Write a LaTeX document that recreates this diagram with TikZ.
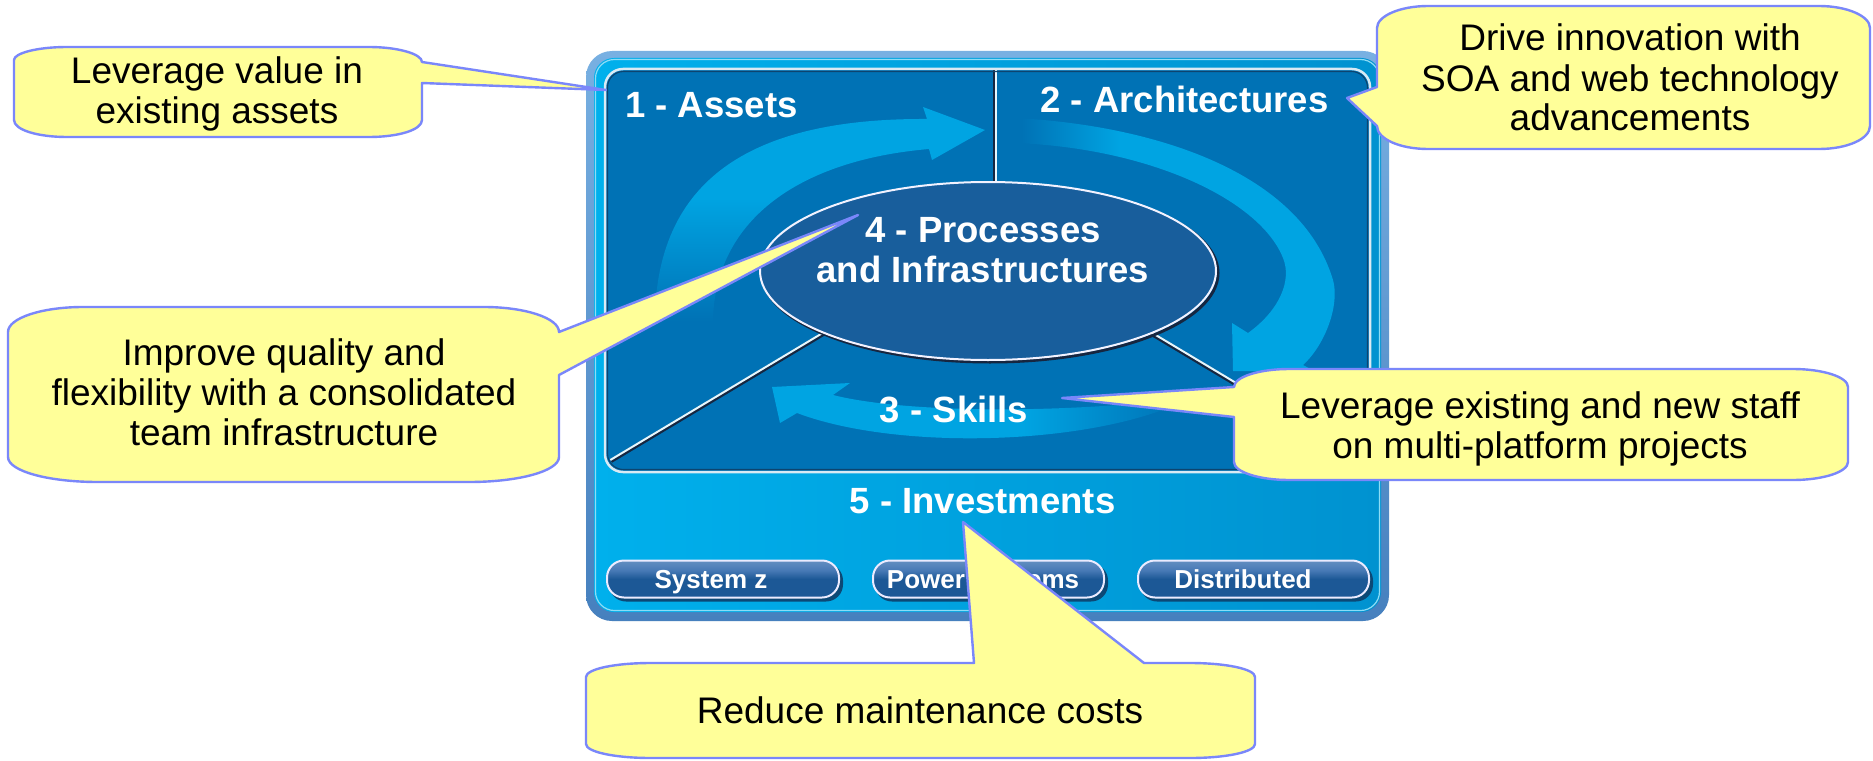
\documentclass[tikz,border=0pt]{standalone}
\usepackage{fontspec}
\setmainfont{Liberation Sans}
\usetikzlibrary{shapes.geometric}
\definecolor{pnl}{RGB}{0,114,181}
\definecolor{ell}{RGB}{24,94,156}
\definecolor{arr}{RGB}{0,164,226}
\definecolor{cyanA}{RGB}{0,176,236}
\definecolor{cyanB}{RGB}{0,146,208}
\definecolor{rim}{RGB}{70,128,190}
\definecolor{rimlight}{RGB}{120,176,226}
\definecolor{cfill}{RGB}{255,255,153}
\definecolor{cline}{RGB}{122,135,250}
\definecolor{btnA}{RGB}{72,122,182}
\definecolor{btnB}{RGB}{28,88,150}
\definecolor{dline}{RGB}{22,38,64}
\pgfdeclareverticalshading{fadeUL}{100bp}{color(0bp)=(pnl); color(28bp)=(pnl); color(55bp)=(arr); color(100bp)=(arr)}
\pgfdeclarehorizontalshading{fadeR}{100bp}{color(0bp)=(pnl); color(26bp)=(pnl); color(41bp)=(arr); color(100bp)=(arr)}
\pgfdeclarehorizontalshading{fadeB}{100bp}{color(0bp)=(arr); color(55bp)=(arr); color(74bp)=(pnl); color(100bp)=(pnl)}
\pgfdeclareverticalshading{btnshade}{100bp}{color(0bp)=(btnB); color(25bp)=(btnB); color(50bp)=(btnB); color(62bp)=(btnA); color(75bp)=(btnA!85!white); color(100bp)=(btnA!85!white)}
\newcommand{\ctfont}{\fontsize{37}{40}\selectfont}
\newcommand{\lbfont}{\fontsize{36.5}{40}\selectfont\bfseries}
\newcommand{\btfont}{\fontsize{26}{30}\selectfont\bfseries}
\newcommand{\tlines}[1]{\begin{tabular}[t]{@{}c@{}}#1\end{tabular}}
\begin{document}
\begin{tikzpicture}[x=1pt,y=-1pt,
  cbox/.style={fill=cfill, draw=cline, line width=2.4pt, line join=round},
  ctext/.style={anchor=base, inner sep=0pt, font=\ctfont, text=black},
  plabel/.style={anchor=base, inner sep=0pt, font=\lbfont, text=white},
  btn/.style={shade, shading=btnshade, draw=white!92!blue, line width=2pt, rounded corners=17pt, minimum width=232pt, minimum height=37pt, inner sep=0pt},
  btntext/.style={anchor=base, inner sep=0pt, font=\btfont, text=white},
  divdark/.style={draw=dline, line width=4pt},
  divlight/.style={draw=white!90!cyan, line width=2pt},
]
\useasboundingbox (0,0) rectangle (1873,760);
\fill[white] (0,0) rectangle (1873,760);

% outer frame
\shade[top color=rimlight, bottom color=rim, rounded corners=26pt] (586,51) rectangle (1389,621);
\shade[left color=cyanA, right color=cyanB, rounded corners=20pt] (594,58) rectangle (1381,612);
\draw[white!55!cyanA, line width=1.2pt, rounded corners=19pt] (595.5,59.5) rectangle (1379.5,610.5);

% inner dark panel
\fill[pnl, rounded corners=18pt] (605,69) rectangle (1370,472);

% circular arrows
\shade[shading=fadeUL] (655,335) .. controls (650,180) and (750,118) .. (927,119) -- (923,107) -- (985,130) -- (932,160) -- (929,149) .. controls (800,160) and (710,220) .. (713,330) -- cycle;
\shade[shading=fadeR] (1015,118) .. controls (1150,125) and (1300,170) .. (1333,280) .. controls (1340,305) and (1325,345) .. (1303,365) -- (1316,372) -- (1233,371) -- (1232,323) -- (1248,333) .. controls (1280,310) and (1292,280) .. (1283,258) .. controls (1260,200) and (1150,148) .. (1015,143) -- cycle;
\shade[shading=fadeB] (833,395) .. controls (900,412) and (1050,415) .. (1190,398) .. controls (1100,445) and (900,452) .. (797,413) -- (780,423) -- (772,387) -- (850,383) -- cycle;

% divider lines
\coordinate (vtop) at (994.5,70);
\coordinate (vbot) at (994.5,190);
\coordinate (dl1) at (830,330);
\coordinate (dl2) at (611,461);
\coordinate (dr1) at (1145,330);
\coordinate (dr2) at (1366,462);
\draw[divdark] (vtop) -- (vbot);
\draw[divdark] (dl1) -- (dl2);
\draw[divdark] (dr1) -- (dr2);
\draw[divlight, transform canvas={shift={(1.2pt,0pt)}}] (vtop) -- (vbot);
\draw[divlight, transform canvas={shift={(-0.7pt,1.0pt)}}] (dl1) -- (dl2);
\draw[divlight, transform canvas={shift={(0.7pt,1.0pt)}}] (dr1) -- (dr2);

% central ellipse
\draw[dline, line width=3pt] (990,273) ellipse [x radius=228, y radius=89];
\node (proc) [ellipse, draw=white!95!blue, line width=2pt, fill=ell, minimum width=456pt, minimum height=178pt, inner sep=0pt] at (988,271) {};

% dark panel border
\draw[white!85!pnl, line width=2.5pt, rounded corners=18pt] (605,69) rectangle (1370,472);
\draw[dline!60!pnl, line width=1.1pt, rounded corners=16pt] (607.5,71.5) rectangle (1367.5,469.5);

% labels
\node (l1) [plabel] at (711.5,117) {1 - Assets};
\node (l2) [plabel] at (1184.5,112) {2 - Architectures};
\node (l4) [plabel] at (983,242) {\tlines{4 - Processes\\and Infrastructures}};
\node (l3) [plabel] at (954,422) {3 - Skills};
\node (l5) [plabel] at (982.5,513) {5 - Investments};

% buttons
\fill[dline!55!pnl, rounded corners=17pt] (609,563.5) rectangle (843,601.5);
\fill[dline!55!pnl, rounded corners=17pt] (875,563.5) rectangle (1108,601.5);
\fill[dline!55!pnl, rounded corners=17pt] (1140,563.5) rectangle (1373,601.5);
\node (bz) [btn] at (723,579) {};
\node (bp) [btn, minimum width=231pt] at (988.5,579) {};
\node (bd) [btn, minimum width=231pt] at (1253.5,579) {};
\node (tz) [btntext] at (711,588) {System z};
\node (tp) [btntext] at (983,588) {Power Systems};
\node (td) [btntext] at (1243,588) {Distributed};

% callout tips
\coordinate (t1) at (606,90);
\coordinate (t2) at (858,215);
\coordinate (t3) at (1347,98);
\coordinate (t4) at (1062,398);
\coordinate (t5) at (963,522);

% callout 1
\draw[cbox] (67,47) -- (369,47) .. controls (398,47) and (422,54) .. (422,62) -- (t1) -- (422,83) -- (422,120) .. controls (422,130) and (398,137) .. (369,137) -- (67,137) .. controls (38,137) and (14,130) .. (14,120) -- (14,60) .. controls (14,53) and (38,47) .. (67,47) -- cycle;
\node (c1) [ctext] at (217,83) {\tlines{Leverage value in\\existing assets}};

% callout 2
\draw[cbox] (83,307) -- (484,307) .. controls (525,307) and (559,318) .. (559,332) -- (t2) -- (559,375) -- (559,457) .. controls (559,471) and (519,482) .. (469,482) -- (98,482) .. controls (48,482) and (8,471) .. (8,457) -- (8,332) .. controls (8,318) and (42,307) .. (83,307) -- cycle;
\node (c2) [ctext] at (284,365) {\tlines{Improve quality and\\flexibility with a consolidated\\team infrastructure}};

% callout 3
\draw[cbox] (1428,6) -- (1819,6) .. controls (1847,6) and (1870,16) .. (1870,28) -- (1870,126) .. controls (1870,139) and (1847,149) .. (1819,149) -- (1428,149) .. controls (1400,149) and (1377,139) .. (1377,126) -- (t3) -- (1377,87) -- (1377,28) .. controls (1377,16) and (1400,6) .. (1428,6) -- cycle;
\node (c3) [ctext] at (1630,51) {\tlines{Drive innovation with\\SOA and web technology\\advancements}};

% callout 4
\draw[cbox] (1289,369) -- (1793,369) .. controls (1823,369) and (1848,377) .. (1848,387) -- (1848,462) .. controls (1848,472) and (1823,480) .. (1793,480) -- (1289,480) .. controls (1259,480) and (1234,472) .. (1234,462) -- (1234,417) -- (t4) -- (1234,387) .. controls (1234,377) and (1259,369) .. (1289,369) -- cycle;
\node (c4) [ctext] at (1540,418) {\tlines{Leverage existing and new staff\\on multi-platform projects}};

% callout 5
\draw[cbox] (651,663) -- (974,663) -- (t5) -- (1144,663) -- (1190,663) .. controls (1226,663) and (1255,669) .. (1255,677) -- (1255,744) .. controls (1255,752) and (1226,758) .. (1190,758) -- (651,758) .. controls (615,758) and (586,752) .. (586,744) -- (586,677) .. controls (586,669) and (615,663) .. (651,663) -- cycle;
\node (c5) [ctext] at (920,723) {Reduce maintenance costs};
\end{tikzpicture}
\end{document}
